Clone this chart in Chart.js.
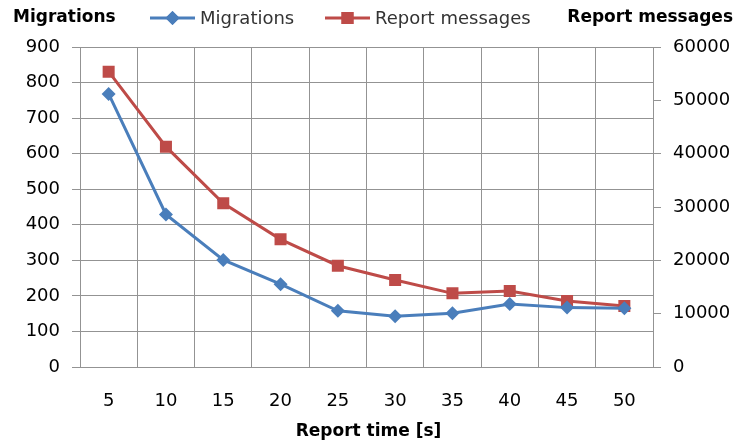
<!DOCTYPE html>
<html>
<head>
<meta charset="utf-8">
<script src="https://cdn.jsdelivr.net/npm/chart.js@4/dist/chart.umd.min.js"></script>
<style>
  html, body { margin: 0; padding: 0; background: #fff; }
  #wrap { position: relative; width: 741px; height: 443px; }
</style>
</head>
<body>
<div id="wrap"><canvas id="c" width="741" height="443"></canvas></div>
<script>
// Report interval (seconds)
const reportTimes = ['5', '10', '15', '20', '25', '30', '35', '40', '45', '50'];
// Number of migrations per report interval
const migrations = [768, 429, 301, 233, 158, 143, 151, 177, 167, 165];
// Number of report messages per report interval
const reportMessages = [55370, 41310, 30690, 23940, 18990, 16310, 13810, 14250, 12375, 11440];

const BLUE = '#4A7EBB';
const RED = '#BE4B48';
const GRID = '#939393';
const FONT = "'DejaVu Sans', sans-serif";

// Horizontal axis titles, bottom title and the line+marker legend
const decorations = {
  id: 'decorations',
  afterDraw(chart) {
    const ctx = chart.ctx;
    const area = chart.chartArea;
    ctx.save();
    ctx.fillStyle = '#000';
    ctx.textBaseline = 'middle';
    ctx.font = 'bold 17px ' + FONT;
    ctx.textAlign = 'left';
    ctx.fillText('Migrations', 13, 18);
    ctx.textAlign = 'right';
    ctx.fillText('Report messages', 733, 18);
    ctx.textAlign = 'center';
    ctx.fillText('Report time [s]', (area.left + area.right) / 2 + 2, 432);

    const items = [
      { text: 'Migrations', color: BLUE, style: 'rectRot', radius: 7, x0: 150 },
      { text: 'Report messages', color: RED, style: 'rect', radius: 8.5, x0: 325 }
    ];
    ctx.font = '18px ' + FONT;
    ctx.textAlign = 'left';
    items.forEach(it => {
      const y = 18;
      ctx.strokeStyle = it.color;
      ctx.lineWidth = 3;
      ctx.beginPath();
      ctx.moveTo(it.x0, y);
      ctx.lineTo(it.x0 + 45, y);
      ctx.stroke();
      ctx.fillStyle = it.color;
      Chart.helpers.drawPoint(ctx, { pointStyle: it.style, radius: it.radius, rotation: 0, borderWidth: 0 }, it.x0 + 22.5, y);
      ctx.fill();
      ctx.fillStyle = '#333';
      ctx.fillText(it.text, it.x0 + 50, y + 1);
    });
    ctx.restore();
  }
};

new Chart(document.getElementById('c'), {
  type: 'line',
  data: {
    labels: reportTimes,
    datasets: [
      {
        label: 'Migrations',
        data: migrations,
        yAxisID: 'y',
        borderColor: BLUE,
        backgroundColor: BLUE,
        borderWidth: 3,
        pointStyle: 'rectRot',
        pointRadius: 7,
        pointBorderWidth: 0,
        tension: 0
      },
      {
        label: 'Report messages',
        data: reportMessages,
        yAxisID: 'y1',
        borderColor: RED,
        backgroundColor: RED,
        borderWidth: 3,
        pointStyle: 'rect',
        pointRadius: 8.5,
        pointBorderWidth: 0,
        tension: 0
      }
    ]
  },
  options: {
    responsive: false,
    animation: false,
    devicePixelRatio: 1,
    layout: { padding: { top: 47, left: 0, right: 0, bottom: 0 } },
    plugins: { legend: { display: false }, tooltip: { enabled: false } },
    scales: {
      x: {
        offset: true,
        grid: { color: GRID, offset: true, drawTicks: false },
        border: { color: GRID },
        ticks: { color: '#000', font: { family: FONT, size: 18 }, padding: 24, maxRotation: 0 },
        afterFit(s) { s.height = 76; }
      },
      y: {
        position: 'left',
        min: 0, max: 900,
        grid: { color: GRID, tickLength: 8 },
        border: { color: GRID },
        ticks: { stepSize: 100, color: '#000', font: { family: FONT, size: 18 }, padding: 12 },
        afterFit(s) { s.width = 80; }
      },
      y1: {
        position: 'right',
        min: 0, max: 60000,
        grid: { drawOnChartArea: false, color: GRID, tickLength: 8 },
        border: { color: GRID },
        ticks: {
          stepSize: 10000, color: '#000', font: { family: FONT, size: 18 }, padding: 12,
          callback: v => String(v)
        },
        afterFit(s) { s.width = 88; }
      }
    }
  },
  plugins: [decorations]
});
</script>
</body>
</html>
